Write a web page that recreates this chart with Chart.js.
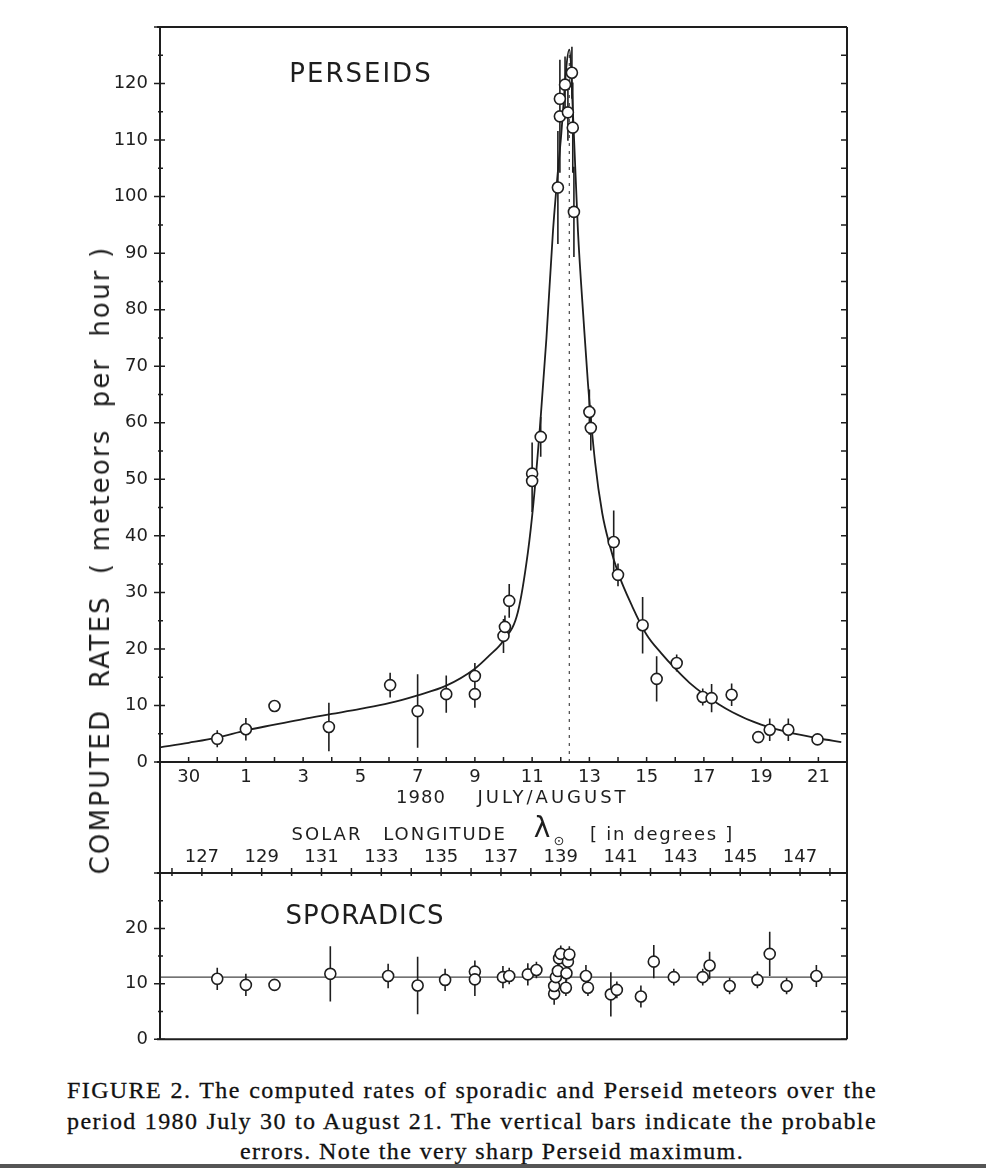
<!DOCTYPE html>
<html lang="en">
<head>
<meta charset="utf-8"/>
<title>Perseid and sporadic meteor rates 1980</title>
<script src="https://cdn.jsdelivr.net/npm/chart.js"></script>
<style>
  body { margin: 0; background: #fff; width: 986px; height: 1168px; position: relative; overflow: hidden; font-family: "DejaVu Sans", sans-serif; }
  #topBox { position: absolute; left: 0; top: 0; width: 986px; height: 812px; }
  #botBox { position: absolute; left: 0; top: 812px; width: 986px; height: 250px; }
  #ytitle { position: absolute; left: 100px; top: 560px; transform: translate(-50%, -50%) rotate(-90deg); white-space: pre; font-size: 26px; letter-spacing: 2.2px; color: #1e1e1e; }
  .cap { position: absolute; font-family: "Liberation Serif", serif; font-size: 24px; line-height: 30px; letter-spacing: 1.4px; color: #111; -webkit-text-stroke: 0.3px #111; white-space: nowrap; }
  .full { left: 67px; width: 810px; text-align: justify; text-align-last: justify; white-space: normal; }
  #cap1 { top: 1075px; }
  #cap2 { top: 1106px; }
  #cap3 { top: 1136px; left: 0; width: 984px; text-align: center; }
  #rule { position: absolute; left: 0; top: 1164px; width: 986px; height: 4px; background: #555; }
</style>
</head>
<body>
<div id="topBox"><canvas id="perseidChart"></canvas></div>
<div id="botBox"><canvas id="sporadicChart"></canvas></div>
<div id="ytitle">COMPUTED  RATES  ( meteors  per  hour )</div>
<div class="cap full" id="cap1">FIGURE 2. The computed rates of sporadic and Perseid meteors over the</div>
<div class="cap full" id="cap2">period 1980 July 30 to August 21. The vertical bars indicate the probable</div>
<div class="cap" id="cap3">errors. Note the very sharp Perseid maximum.</div>
<div id="rule"></div>
<script>
// x values are August days (July 31 = 0, July 30 = -1)
const dayTicks = [-1, 1, 3, 5, 7, 9, 11, 13, 15, 17, 19, 21];
const dayTickLabels = ['30', '1', '3', '5', '7', '9', '11', '13', '15', '17', '19', '21'];
const solarTicks = [127, 129, 131, 133, 135, 137, 139, 141, 143, 145, 147];

// Perseids
const perseidDay = [0, 1, 2, 3.9, 6.04, 7.0, 8.0, 9.0, 9.0, 10.0, 10.05, 10.2, 11.0, 11.0, 11.3,
  11.9, 11.97, 11.97, 12.15, 12.25, 12.39, 12.42, 12.46, 13.0, 13.05, 13.85, 14.0, 14.86, 15.35,
  16.05, 16.96, 17.27, 17.97, 18.9, 19.3, 19.95, 20.97];
const perseidRate = [4.1, 5.8, 9.9, 6.2, 13.6, 9.0, 12.0, 15.2, 12.0, 22.3, 23.9, 28.5, 51.0, 49.7, 57.5,
  101.6, 117.3, 114.2, 119.8, 114.9, 121.9, 112.2, 97.3, 61.9, 59.1, 38.9, 33.1, 24.2, 14.7,
  17.5, 11.5, 11.3, 11.9, 4.4, 5.7, 5.7, 4.0];
const perseidErr = [1.5, 2, 1, 4.3, 2.2, 6.5, 3.3, 2.3, 2.4, 3, 2, 3, 5.5, 5.5, 3.5,
  10, 6, 10, 5, 5, 4.6, 8, 8, 4, 4, 5.6, 2, 5, 4,
  1.5, 1.5, 2.5, 2, 1, 2, 2, 1];

// fitted curve
const curveDay = [-2, -1, 0, 1, 2, 3, 4, 5, 6, 7, 8, 9, 9.5, 10, 10.5, 10.85, 11.05, 11.3, 11.5, 11.73,
  12.0, 12.3, 12.45, 12.6, 12.8, 12.95, 13.2, 13.45, 13.7, 14.0, 14.5, 15.0, 15.5, 16.0, 16.5, 17.0,
  18.0, 19.0, 20.0, 21.0, 21.8];
const curveRate = [2.6, 3.4, 4.3, 5.6, 6.6, 7.6, 8.5, 9.4, 10.4, 11.8, 13.5, 16.5, 18.8, 21.5, 26.5, 37, 46, 61, 75, 94,
  110, 126, 112, 94, 78, 67, 53, 44, 38.5, 33.5, 27.5, 22.5, 19.3, 16.5, 14, 12,
  8.8, 6.6, 5.2, 4.2, 3.5];
const maxDay = 12.3;
const maxTop = 126;

// Sporadics
const sporDay = [0, 1, 2, 3.95, 5.97, 7.0, 7.96, 9.0, 9.0, 9.98, 10.2, 10.85, 11.15, 11.77, 11.77, 11.83,
  11.9, 11.94, 12.0, 12.18, 12.2, 12.25, 12.3, 12.88, 12.95, 13.75, 13.96, 14.8, 15.25, 15.95,
  16.96, 17.2, 17.9, 18.87, 19.3, 19.89, 20.93];
const sporRate = [10.9, 9.8, 9.8, 11.8, 11.4, 9.7, 10.7, 12.2, 10.8, 11.2, 11.4, 11.7, 12.5, 8.2, 9.6, 11.2,
  12.3, 14.6, 15.4, 9.3, 11.9, 14.0, 15.3, 11.4, 9.3, 8.1, 8.9, 7.7, 14.0, 11.2,
  11.2, 13.3, 9.6, 10.7, 15.4, 9.6, 11.4];
const sporErr = [2, 2, 1, 5, 2.2, 5.2, 2, 2, 3, 2, 1.5, 2, 1.5, 2, 1, 1.5,
  1.5, 1.5, 1.5, 1.5, 1.5, 1.5, 1.5, 2, 1.5, 4, 1.5, 2, 3, 1.5,
  1.5, 2.5, 1.5, 1.5, 4, 1.5, 2];
const sporMean = 11.2;

const FONT = '"DejaVu Sans", sans-serif';
const INK = '#1e1e1e';

function pts(xs, ys) { return xs.map((x, i) => ({ x: x, y: ys[i] })); }
function bars(xs, ys, es) {
  const out = [];
  xs.forEach((x, i) => { out.push({ x: x, y: ys[i] - es[i] }, { x: x, y: ys[i] + es[i] }, { x: x, y: null }); });
  return out;
}

const framePlugin = {
  id: 'frame',
  afterDraw(chart, args, o) {
    const ctx = chart.ctx, a = chart.chartArea, ys = chart.scales.y;
    ctx.save();
    ctx.strokeStyle = INK;
    ctx.lineWidth = 2;
    ctx.beginPath();
    const top = o.openTop ? 0 : a.top;
    const bottom = o.openBottom ? chart.height : a.bottom;
    ctx.moveTo(a.left, top); ctx.lineTo(a.left, bottom);
    ctx.moveTo(a.right, top); ctx.lineTo(a.right, bottom);
    ctx.moveTo(a.left - 3, a.top); ctx.lineTo(a.right, a.top);
    ctx.moveTo(a.left - 3, a.bottom); ctx.lineTo(a.right, a.bottom);
    ctx.stroke();

    ctx.lineWidth = 1.5;
    ctx.beginPath();
    for (let v = ys.min; v <= ys.max; v += 5) {
      const py = ys.getPixelForValue(v);
      const major = v % 10 === 0;
      ctx.moveTo(a.left - (major ? 6 : 2), py); ctx.lineTo(a.left + (major ? 5 : 3), py);
      ctx.moveTo(a.right - 6, py); ctx.lineTo(a.right, py);
    }
    const xs = chart.scales[o.tickAxis];
    const lineY = o.tickAxis === 'x' ? a.bottom : a.top;
    xs.ticks.forEach(t => {
      const px = xs.getPixelForValue(t.value);
      ctx.moveTo(px, lineY - 5); ctx.lineTo(px, lineY + (o.tickAxis === 'x' ? 0 : 3));
    });
    ctx.stroke();

    ctx.fillStyle = INK;
    ctx.textAlign = 'center';
    ctx.textBaseline = 'middle';
    (o.texts || []).forEach(t => {
      ctx.font = t.size + 'px ' + FONT;
      ctx.letterSpacing = (t.ls || 0) + 'px';
      ctx.fillText(t.t, t.x, t.y);
    });
    ctx.restore();
  }
};

function tickFont() { return { family: FONT, size: 18 }; }

new Chart(document.getElementById('perseidChart'), {
  type: 'line',
  data: {
    datasets: [
      { label: 'Perseids', data: pts(perseidDay, perseidRate), showLine: false, pointRadius: 5.5,
        pointBackgroundColor: '#fff', pointBorderColor: INK, pointBorderWidth: 1.6, order: 0 },
      { label: 'errors', data: bars(perseidDay, perseidRate, perseidErr), borderColor: INK, borderWidth: 1.6,
        pointRadius: 0, spanGaps: false, order: 1 },
      { label: 'fit', data: pts(curveDay, curveRate), borderColor: INK, borderWidth: 1.8, pointRadius: 0,
        cubicInterpolationMode: 'monotone', order: 2 },
      { label: 'maximum', data: [{ x: maxDay, y: 0 }, { x: maxDay, y: maxTop }], borderColor: '#555',
        borderWidth: 1.3, borderDash: [3, 5], pointRadius: 0, order: 3 }
    ]
  },
  options: {
    responsive: true, maintainAspectRatio: false, animation: false,
    layout: { padding: { left: 0, right: 139, top: 27, bottom: 0 } },
    plugins: {
      legend: { display: false }, tooltip: { enabled: false },
      frame: { openBottom: true, tickAxis: 'x', texts: [
        { t: 'PERSEIDS', x: 361, y: 75, size: 26, ls: 2 },
        { t: '1980', x: 421, y: 798, size: 18, ls: 1 },
        { t: 'JULY/AUGUST', x: 553, y: 798, size: 18, ls: 3 }
      ] }
    },
    scales: {
      x: {
        type: 'linear', min: -2, max: 22,
        afterFit: s => { s.height = 50; },
        grid: { display: false, drawTicks: false }, border: { display: false },
        ticks: { stepSize: 1, autoSkip: false, maxRotation: 0, padding: 5, color: INK, font: tickFont(),
          callback: v => { const i = dayTicks.indexOf(v); return i < 0 ? '' : dayTickLabels[i]; } }
      },
      y: {
        min: 0, max: 130,
        afterFit: s => { s.width = 160; },
        grid: { display: false, drawTicks: false }, border: { display: false },
        ticks: { stepSize: 10, padding: 12, color: INK, font: tickFont(), callback: v => v <= 120 ? v : '' }
      }
    }
  },
  plugins: [framePlugin]
});

new Chart(document.getElementById('sporadicChart'), {
  type: 'line',
  data: {
    datasets: [
      { label: 'Sporadics', data: pts(sporDay, sporRate), showLine: false, pointRadius: 5.5,
        pointBackgroundColor: '#fff', pointBorderColor: INK, pointBorderWidth: 1.6, order: 0 },
      { label: 'errors', data: bars(sporDay, sporRate, sporErr), borderColor: INK, borderWidth: 1.6,
        pointRadius: 0, spanGaps: false, order: 1 },
      { label: 'mean', data: [{ x: -2, y: sporMean }, { x: 22, y: sporMean }], borderColor: '#444',
        borderWidth: 1.3, pointRadius: 0, order: 2 }
    ]
  },
  options: {
    responsive: true, maintainAspectRatio: false, animation: false,
    layout: { padding: { left: 0, right: 139, top: 0, bottom: 19 } },
    plugins: {
      legend: { display: false }, tooltip: { enabled: false },
      frame: { openTop: true, tickAxis: 'x2', texts: [
        { t: 'SPORADICS', x: 365, y: 105, size: 26, ls: 1 },
        { t: 'SOLAR', x: 327, y: 23, size: 18, ls: 2 },
        { t: 'LONGITUDE', x: 445, y: 23, size: 18, ls: 2 },
        { t: '\u03bb', x: 542, y: 18, size: 28, ls: 0 },
        { t: '\u2299', x: 559, y: 30, size: 13, ls: 0 },
        { t: '[ in degrees ]', x: 662, y: 23, size: 18, ls: 1.7 }
      ] }
    },
    scales: {
      x: { type: 'linear', min: -2, max: 22, display: false },
      x2: {
        type: 'linear', position: 'top', min: 125.6, max: 148.57,
        afterFit: s => { s.height = 61; },
        grid: { display: false, drawTicks: false }, border: { display: false },
        ticks: { stepSize: 1, includeBounds: false, autoSkip: false, maxRotation: 0, padding: 5, color: INK,
          font: tickFont(), callback: v => solarTicks.includes(v) ? String(v) : '' }
      },
      y: {
        min: 0, max: 30,
        afterFit: s => { s.width = 160; },
        grid: { display: false, drawTicks: false }, border: { display: false },
        ticks: { stepSize: 10, padding: 12, color: INK, font: tickFont(), callback: v => v < 30 ? v : '' }
      }
    }
  },
  plugins: [framePlugin]
});
</script>
</body>
</html>
